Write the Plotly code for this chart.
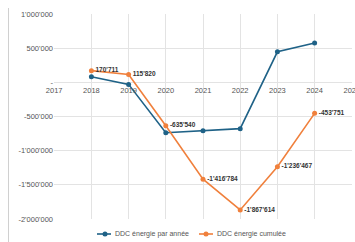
import plotly.graph_objects as go

years = [2018, 2019, 2020, 2021, 2022, 2023, 2024]
annual = [82000, -30000, -737000, -708000, -678000, 447000, 575000]
cumul = [170711, 115820, -635540, -1416784, -1867614, -1236467, -453751]
cumul_labels = ["170'711", "115'820", "-635'540", "-1'416'784", "-1'867'614", "-1'236'467", "-453'751"]
series_names = ["DDC énergie par année", "DDC énergie cumulée"]

y_tickvals = [1000000, 500000, 0, -500000, -1000000, -1500000, -2000000]
y_ticktext = ["1'000'000", "500'000", "-", "-500'000", "-1'000'000", "-1'500'000", "-2'000'000"]
x_tickvals = [2017, 2018, 2019, 2020, 2021, 2022, 2023, 2024, 2025]

blue = "#1f6287"
orange = "#f0803c"

L, R, T, B, W, H = 54, 3, 14, 23, 355, 242
PW, PH = W - L - R, H - T - B


def px(x):
    return (x - L) / PW


def py(y):
    return (H - B - y) / PH


fig = go.Figure()
fig.add_trace(go.Scatter(
    x=years, y=annual, mode="lines+markers", name=series_names[0],
    line=dict(color=blue, width=1.6), marker=dict(color=blue, size=5)))
fig.add_trace(go.Scatter(
    x=years, y=cumul, mode="lines+markers+text", name=series_names[1],
    line=dict(color=orange, width=1.6), marker=dict(color=orange, size=5),
    text=cumul_labels, textposition="middle right",
    textfont=dict(family="Liberation Sans", size=6.5, color="#333333", weight="bold")))

fig.update_layout(
    width=W, height=H,
    margin=dict(l=L, r=R, t=T, b=B, autoexpand=False),
    paper_bgcolor="white", plot_bgcolor="white",
    font=dict(family="Liberation Sans", size=7.5, color="#555555"),
    showlegend=False,
    xaxis=dict(range=[2016.995, 2025.005], tickvals=x_tickvals, ticktext=[str(v) for v in x_tickvals],
               showgrid=True, gridcolor="#e3e3e3", gridwidth=1, zeroline=False,
               showline=False, anchor="free", position=2/3, ticks="", ticklabelstandoff=2,
               automargin=False, ticklabeloverflow="allow"),
    yaxis=dict(range=[-2000000, 1000000], tickvals=y_tickvals, ticktext=y_ticktext,
               showgrid=True, gridcolor="#e3e3e3", gridwidth=1, zeroline=False,
               showline=False, ticks="", automargin=False),
)
# thin border line at the left
fig.add_shape(type="line", xref="paper", yref="paper",
              x0=px(8.5), x1=px(8.5), y0=py(242), y1=py(8),
              line=dict(color="#d0d0d0", width=1))

# custom legend (line + marker + text) to match compact reference layout
legend_items = [(97, 111, 105, blue, 113, series_names[0]),
                (199, 213, 206, orange, 215, series_names[1])]
ly = 234
for x0, x1, xm, col, xt, name in legend_items:
    fig.add_shape(type="line", xref="paper", yref="paper",
                  x0=px(x0), x1=px(x1), y0=py(ly), y1=py(ly),
                  line=dict(color=col, width=1.6))
    fig.add_shape(type="circle", xref="paper", yref="paper",
                  x0=px(xm - 2.5), x1=px(xm + 2.5), y0=py(ly + 2.5), y1=py(ly - 2.5),
                  fillcolor=col, line=dict(color=col, width=0))
    fig.add_annotation(xref="paper", yref="paper", x=px(xt), y=py(ly),
                       text=name, showarrow=False, xanchor="left", yanchor="middle",
                       font=dict(size=7, color="#555555"))

fig.write_html("out.html", config={"displayModeBar": False},
               post_script="document.body.style.margin='0';document.body.style.padding='0';document.body.style.overflow='hidden';")
